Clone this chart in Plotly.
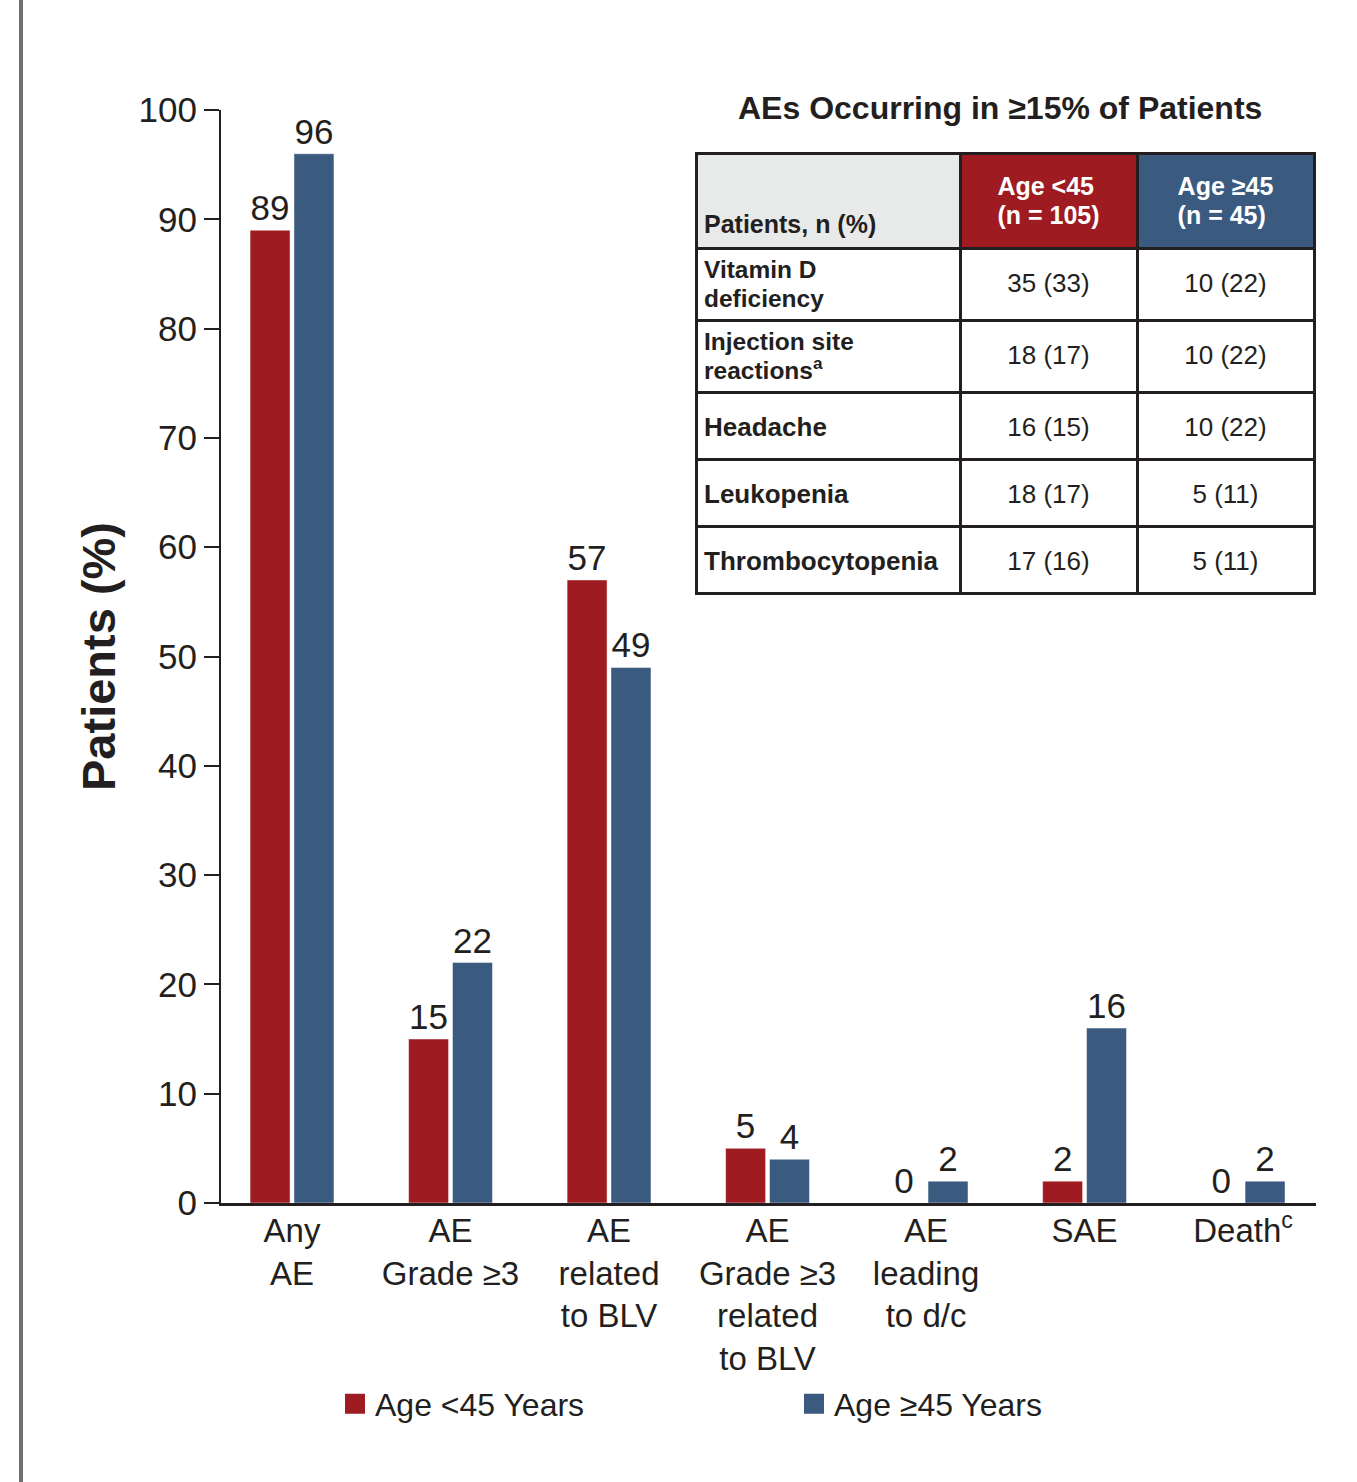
import plotly.graph_objects as go

# ---------------- data ----------------
categories = ["Any<br>AE", "AE<br>Grade ≥3", "AE<br>related<br>to BLV",
              "AE<br>Grade ≥3<br>related<br>to BLV", "AE<br>leading<br>to d/c",
              "SAE", "Death<sup>c</sup>"]
age_under45 = [89, 15, 57, 5, 0, 2, 0]
age_over45 = [96, 22, 49, 4, 2, 16, 2]
series_names = ["Age <45 Years", "Age ≥45 Years"]

table_title = "AEs Occurring in ≥15% of Patients"
table_header = ["Patients, n (%)", "Age <45<br>(n = 105)", "Age ≥45<br>(n = 45)"]
ae_names = ["Vitamin D<br>deficiency", "Injection site<br>reactions<sup>a</sup>",
            "Headache", "Leukopenia", "Thrombocytopenia"]
ae_under45 = ["35 (33)", "18 (17)", "16 (15)", "18 (17)", "17 (16)"]
ae_over45 = ["10 (22)", "10 (22)", "10 (22)", "5 (11)", "5 (11)"]

# ---------------- style ----------------
RED = "#9E1C21"
BLUE = "#3B5A80"
INK = "#231F20"
FONT = "Liberation Sans, Arial, sans-serif"
TXT1 = 26      # single-line table text size
TXT2 = 24.5    # two-line table text size
HTXT = 25      # header text size
BASE = 11.2    # base cell font: one <br> = 1.3*BASE px of vertical space

W, H = 1357, 1482
ML, MR, MT, MB = 221, 41, 110, 279
PW, PH = W - ML - MR, H - MT - MB


def px_x(p):
    return (p - ML) / PW


def px_y(p):
    return (H - MB - p) / PH


def padchar(size):
    return f"<span style='color:rgba(0,0,0,0);font-size:{size}px'>.</span>"


def cell(txt, bold=False, size=None, pad=None, padsize=8):
    lines = txt.split("<br>")
    if size is None:
        size = TXT1 if len(lines) == 1 else TXT2
    parts = []
    for ln in lines:
        s = f"<b>{ln}</b>" if bold else ln
        parts.append(f"<span style='font-size:{size}px'>{s}</span>")
    inner = "<br><br>".join(parts)
    if pad is None:
        pad = 2 if len(lines) == 1 else 0
    if pad == 0:
        return inner
    return padchar(padsize) + "<br>" + "<br><br>" * 0 + ("<br>" * (pad - 1)) + inner


c0 = [cell(v, bold=True) for v in ae_names]
c1 = [cell(v) for v in ae_under45]
c2 = [cell(v) for v in ae_over45]

h_txt = [cell(table_header[0], bold=True, size=HTXT, pad=4, padsize=16),
         cell(table_header[1], bold=True, size=HTXT, pad=2, padsize=6),
         cell(table_header[2], bold=True, size=HTXT, pad=2, padsize=6)]

fig = go.Figure()

for vals, name, color in [(age_under45, series_names[0], RED),
                          (age_over45, series_names[1], BLUE)]:
    fig.add_trace(go.Bar(
        x=list(range(len(categories))), y=vals, name=name, showlegend=False,
        marker=dict(color=color, line=dict(color="rgba(255,255,255,0.6)", width=0.75)),
        text=vals, textposition="outside", constraintext="none",
        textfont=dict(size=35, color=INK, family=FONT), cliponaxis=False,
    ))

# legend keys (larger square swatches)
for name, color in [(series_names[0], RED), (series_names[1], BLUE)]:
    fig.add_trace(go.Scatter(
        x=[None], y=[None], mode="markers", name=name, showlegend=True,
        marker=dict(symbol="square", size=16, color=color, line=dict(color=color, width=4)),
    ))

fig.add_trace(go.Table(
    domain=dict(x=[px_x(696), px_x(1314)], y=[px_y(640), px_y(153)]),
    columnwidth=[264, 177, 177],
    header=dict(
        values=h_txt,
        fill_color=["#E8EAE9", RED, BLUE],
        align=["left", "center", "center"],
        font=dict(family=FONT, size=BASE, color=[INK, "white", "white"]),
        line=dict(color=INK, width=3),
        height=95,
    ),
    cells=dict(
        values=[c0, c1, c2],
        fill_color="white",
        align=["left", "center", "center"],
        font=dict(family=FONT, size=BASE, color=INK),
        line=dict(color=INK, width=3),
        height=67,
    ),
))

fig.add_annotation(
    text=f"<b>{table_title}</b>", xref="paper", yref="paper",
    x=px_x(1000), y=px_y(108), xanchor="center", yanchor="middle",
    showarrow=False, font=dict(family=FONT, size=32, color=INK),
)

# left border rule of the slide panel
fig.add_shape(type="line", xref="paper", yref="paper",
              x0=px_x(21), x1=px_x(21), y0=px_y(0), y1=px_y(H),
              line=dict(color="#6D6F72", width=4))

fig.update_layout(
    width=W, height=H,
    margin=dict(l=ML, r=MR, t=MT, b=MB, pad=0),
    paper_bgcolor="white", plot_bgcolor="white",
    font=dict(family=FONT, color=INK),
    barmode="group", bargap=0.446, bargroupgap=0.09,
    showlegend=True,
    legend=dict(
        orientation="h", x=px_x(335), y=px_y(1404), xanchor="left", yanchor="middle",
        font=dict(size=32, color=INK, family=FONT), bgcolor="rgba(0,0,0,0)",
        entrywidth=414, entrywidthmode="pixels", traceorder="normal",
        itemwidth=30,
    ),
    xaxis=dict(
        tickmode="array", tickvals=list(range(len(categories))), ticktext=categories,
        range=[-0.448, 6.46], showline=True, linecolor=INK, linewidth=3,
        ticks="", tickfont=dict(size=33, color=INK, family=FONT), ticklabelstandoff=-4,
        showgrid=False, zeroline=False,
    ),
    yaxis=dict(
        range=[0, 100], dtick=10, tick0=0, showline=True, linecolor=INK, linewidth=2,
        ticks="outside", ticklen=15, tickwidth=2, tickcolor=INK,
        tickfont=dict(size=35, color=INK, family=FONT), showgrid=False, zeroline=False,
        title=dict(text="<b>Patients (%)</b>", font=dict(size=47, color=INK, family=FONT),
                   standoff=8),
    ),
)

fig.write_html("out.html")
